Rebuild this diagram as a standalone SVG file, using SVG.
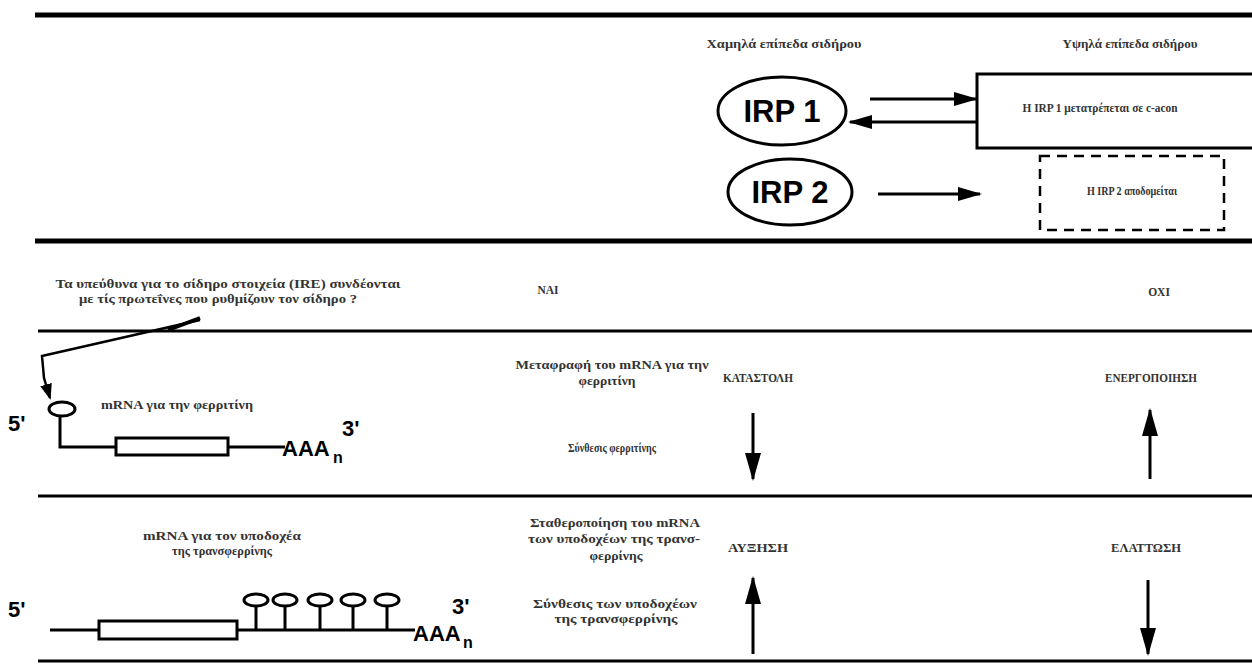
<svg xmlns="http://www.w3.org/2000/svg" width="1252" height="666" viewBox="0 0 1252 666">
<style>
.t{font-family:"Liberation Serif","DejaVu Serif",serif;font-size:11.5px;font-weight:bold;fill:#333;text-anchor:middle}
.big{font-family:"Liberation Sans","DejaVu Sans",Arial,sans-serif;font-weight:bold;fill:#000}
.irp{font-family:"Liberation Sans","DejaVu Sans",Arial,sans-serif;font-weight:bold;font-size:31px;fill:#000;text-anchor:middle}
.rule{stroke:#000;fill:none}
.ln{stroke:#000;fill:none;stroke-width:3}
</style>
<defs>
<marker id="ah" viewBox="0 0 24 14" refX="22" refY="7" markerWidth="24" markerHeight="14" markerUnits="userSpaceOnUse" orient="auto">
<path d="M0,0 L24,7 L0,14 Z" fill="#000"/>
</marker>
<marker id="av" viewBox="0 0 28 16" refX="26" refY="8" markerWidth="28" markerHeight="16" markerUnits="userSpaceOnUse" orient="auto">
<path d="M0,0 L28,8 L0,16 Z" fill="#000"/>
</marker>
<marker id="ap" viewBox="0 0 16 12" refX="14" refY="6" markerWidth="16" markerHeight="12" markerUnits="userSpaceOnUse" orient="auto">
<path d="M0,0 L16,6 L0,12 Z" fill="#000"/>
</marker>
</defs>
<rect width="1252" height="666" fill="#fff"/>

<g id="rules">
<line class="rule" x1="35" y1="15" x2="1252" y2="15" stroke-width="5"/>
<line class="rule" x1="35" y1="241" x2="1252" y2="241" stroke-width="5"/>
<line class="rule" x1="38" y1="331" x2="1252" y2="331" stroke-width="3"/>
<line class="rule" x1="38" y1="496" x2="1252" y2="496" stroke-width="3"/>
<line class="rule" x1="38" y1="661" x2="1252" y2="661" stroke-width="3"/>
</g>

<g id="headers">
<text class="t" x="784" y="48" textLength="155" lengthAdjust="spacingAndGlyphs">Χαμηλά επίπεδα σιδήρου</text>
<text class="t" x="1130" y="48" textLength="135" lengthAdjust="spacingAndGlyphs">Υψηλά επίπεδα σιδήρου</text>
</g>

<g id="irp1">
<ellipse cx="782" cy="111" rx="64" ry="34" fill="none" stroke="#000" stroke-width="3"/>
<text class="irp" x="782" y="122">IRP 1</text>
</g>
<g id="irp2">
<ellipse cx="790" cy="192" rx="62" ry="33" fill="none" stroke="#000" stroke-width="3"/>
<text class="irp" x="790" y="203">IRP 2</text>
</g>
<g id="irp1-box">
<rect x="977" y="74" width="290" height="74" fill="none" stroke="#000" stroke-width="3"/>
<text class="t" x="1100" y="112" textLength="155" lengthAdjust="spacingAndGlyphs">Η IRP 1 μετατρέπεται σε c-acon</text>
</g>
<g id="irp2-box">
<rect x="1040" y="156" width="184" height="74" fill="none" stroke="#000" stroke-width="2.5" stroke-dasharray="10,7"/>
<text class="t" x="1132" y="195" textLength="90" lengthAdjust="spacingAndGlyphs">Η IRP 2 αποδομείται</text>
</g>

<g id="question">
<text class="t" x="228" y="288" textLength="345" lengthAdjust="spacingAndGlyphs">Τα υπεύθυνα για το σίδηρο στοιχεία (IRE) συνδέονται</text>
<text class="t" x="218" y="303" textLength="278" lengthAdjust="spacingAndGlyphs">με τίς πρωτεΐνες που ρυθμίζουν τον σίδηρο  ?</text>
</g>
<g id="answers">
<text class="t" x="548" y="294">ΝΑΙ</text>
<text class="t" x="1159" y="296">ΟΧΙ</text>
</g>

<g id="ferritin-mrna">
<ellipse cx="62" cy="409" rx="13" ry="7" fill="none" stroke="#000" stroke-width="3"/>
<polyline class="ln" points="60,416 60,447 116,447"/>
<rect x="116" y="438" width="112" height="17" fill="none" stroke="#000" stroke-width="3"/>
<line class="ln" x1="228" y1="447" x2="285" y2="447"/>
<text class="big" x="8" y="431" font-size="22">5'</text>
<text class="big" x="282" y="456" font-size="22">AAA</text>
<text class="big" x="333" y="463" font-size="16">n</text>
<text class="big" x="342" y="436" font-size="22">3'</text>
<text class="t" x="177" y="409" textLength="152" lengthAdjust="spacingAndGlyphs">mRNA για την φερριτίνη</text>
</g>

<g id="receptor-mrna">
<line class="ln" x1="50" y1="630" x2="100" y2="630"/>
<rect x="99" y="621" width="138" height="18" fill="none" stroke="#000" stroke-width="3"/>
<line class="ln" x1="237" y1="630" x2="415" y2="630"/>
<g fill="none" stroke="#000" stroke-width="3">
<ellipse cx="256" cy="600" rx="12" ry="6"/>
<ellipse cx="285" cy="600" rx="12" ry="6"/>
<ellipse cx="320" cy="600" rx="12" ry="6"/>
<ellipse cx="353" cy="600" rx="12" ry="6"/>
<ellipse cx="387" cy="600" rx="12" ry="6"/>
<line x1="256" y1="606" x2="256" y2="630"/>
<line x1="285" y1="606" x2="285" y2="630"/>
<line x1="320" y1="606" x2="320" y2="630"/>
<line x1="353" y1="606" x2="353" y2="630"/>
<line x1="387" y1="606" x2="387" y2="630"/>
</g>
<text class="big" x="8" y="617" font-size="22">5'</text>
<text class="big" x="413" y="641" font-size="22">AAA</text>
<text class="big" x="463" y="648" font-size="16">n</text>
<text class="big" x="452" y="614" font-size="22">3'</text>
<text class="t" x="222" y="540" textLength="158" lengthAdjust="spacingAndGlyphs">mRNA για τον υποδοχέα</text>
<text class="t" x="222" y="555" textLength="100" lengthAdjust="spacingAndGlyphs">της τρανσφερρίνης</text>
</g>

<g id="ferritin-texts">
<text class="t" x="612" y="369" textLength="193" lengthAdjust="spacingAndGlyphs">Μεταφραφή του mRNA για την</text>
<text class="t" x="607" y="385" textLength="57" lengthAdjust="spacingAndGlyphs">φερριτίνη</text>
<text class="t" x="612" y="452" textLength="88" lengthAdjust="spacingAndGlyphs">Σύνθεσις φερριτίνης</text>
<text class="t" x="758" y="382" textLength="70" lengthAdjust="spacingAndGlyphs">ΚΑΤΑΣΤΟΛΗ</text>
<text class="t" x="1151" y="382" textLength="92" lengthAdjust="spacingAndGlyphs">ΕΝΕΡΓΟΠΟΙΗΣΗ</text>
</g>

<g id="receptor-texts">
<text class="t" x="615" y="527" textLength="170" lengthAdjust="spacingAndGlyphs">Σταθεροποίηση του mRNA</text>
<text class="t" x="614" y="543" textLength="172" lengthAdjust="spacingAndGlyphs">των υποδοχέων της τρανσ-</text>
<text class="t" x="616" y="560" textLength="53" lengthAdjust="spacingAndGlyphs">φερρίνης</text>
<text class="t" x="615" y="608" textLength="164" lengthAdjust="spacingAndGlyphs">Σύνθεσις των υποδοχέων</text>
<text class="t" x="616" y="623" textLength="123" lengthAdjust="spacingAndGlyphs">της τρανσφερρίνης</text>
<text class="t" x="758" y="552" textLength="60" lengthAdjust="spacingAndGlyphs">ΑΥΞΗΣΗ</text>
<text class="t" x="1146" y="552" textLength="70" lengthAdjust="spacingAndGlyphs">ΕΛΑΤΤΩΣΗ</text>
</g>

<g id="connectors">
<line class="ln" x1="870" y1="99" x2="976" y2="99" marker-end="url(#ah)"/>
<line class="ln" x1="977" y1="122" x2="850" y2="122" marker-end="url(#ah)"/>
<line class="ln" x1="878" y1="194" x2="980" y2="194" marker-end="url(#ah)"/>
<polyline points="200,320 42,356 44,378 50,398" fill="none" stroke="#000" stroke-width="2.5" marker-end="url(#ap)"/>
<path d="M168,330 L200,318" stroke="#000" stroke-width="4" fill="none"/>
<line class="ln" x1="753" y1="413" x2="753" y2="479" marker-end="url(#av)"/>
<line class="ln" x1="1150" y1="479" x2="1150" y2="410" marker-end="url(#av)"/>
<line class="ln" x1="753" y1="654" x2="753" y2="578" marker-end="url(#av)"/>
<line class="ln" x1="1148" y1="580" x2="1148" y2="654" marker-end="url(#av)"/>
</g>
</svg>
